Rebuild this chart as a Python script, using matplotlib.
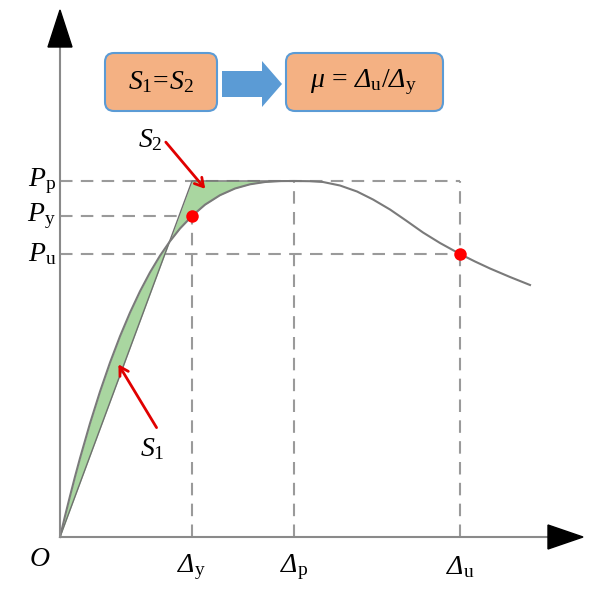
import numpy as np
import matplotlib
matplotlib.use("Agg")
import matplotlib.pyplot as plt
from matplotlib.patches import FancyBboxPatch, Polygon, FancyArrow

plt.rcParams['mathtext.fontset'] = 'custom'
plt.rcParams['mathtext.rm'] = 'Liberation Serif'
plt.rcParams['mathtext.it'] = 'Liberation Serif:italic'
plt.rcParams['mathtext.sf'] = 'Liberation Serif:italic'
plt.rcParams['font.family'] = 'Liberation Serif'

# ---- data (schematic load-displacement curve) ----
curve_x = [0, 5, 10, 15, 20, 30, 40, 50, 60, 70, 80, 90, 100, 110, 120, 132, 145,
           160, 175, 190, 205, 220, 234, 250, 263, 280, 297, 313, 330, 346, 363,
           380, 400, 415, 430, 450, 470]
curve_y = [0, 20.9, 40.9, 60.3, 78.8, 113.6, 145.4, 174.4, 200.7, 224.4, 245.7,
           264.6, 281.3, 295.8, 308.5, 321, 332.3, 341.8, 348.5, 352.7, 355, 355.9,
           356, 355.8, 355.0, 351.5, 345.5, 337.5, 327.5, 316.5, 304.5, 294, 283,
           275.5, 268.5, 260, 252]

delta_y, delta_p, delta_u = 132, 234, 400
P_p, P_y, P_u = 356, 321, 283

bilinear_x = [0, delta_y, delta_p]
bilinear_y = [0, P_p, P_p]

key_x = [delta_y, delta_u]
key_y = [P_y, P_u]

fig = plt.figure(figsize=(5.98, 5.89), dpi=100)
ax = fig.add_axes([0, 0, 1, 1])
ax.set_xlim(-60, 538)
ax.set_ylim(-52, 537)
ax.axis('off')

dash_kw = dict(color='#9a9a9a', lw=1.5, dashes=(6, 4), zorder=1)
ax.plot([0, delta_u], [P_p, P_p], **dash_kw)
ax.plot([0, delta_y], [P_y, P_y], **dash_kw)
ax.plot([0, delta_u], [P_u, P_u], **dash_kw)
for xv in (delta_y, delta_p, delta_u):
    ax.plot([xv, xv], [0, P_p], **dash_kw)

cx = np.array(curve_x, dtype=float)
cy = np.array(curve_y, dtype=float)
mask = cx <= delta_p
lin = np.interp(cx[mask], bilinear_x, bilinear_y)
ax.fill_between(cx[mask], cy[mask], lin, color='#a9d6a0', zorder=2, lw=0)

ax.plot(bilinear_x, bilinear_y, color='#6f6f6f', lw=1.0, zorder=3)
ax.plot(curve_x, curve_y, color='#7a7a7a', lw=1.5, zorder=3, solid_joinstyle='round')

ax.plot(key_x, key_y, 'o', color='#ff0000', ms=9, mec='none', zorder=5)

ax.plot([0, 490], [0, 0], color='#8a8a8a', lw=1.5, zorder=4)
ax.plot([0, 0], [0, 492], color='#8a8a8a', lw=1.5, zorder=4)
ax.add_patch(Polygon([[488, 12], [488, -12], [523, 0]], closed=True, color='black', zorder=6))
ax.add_patch(Polygon([[-12, 490], [12, 490], [0, 527]], closed=True, color='black', zorder=6))

fs = 20
D = r'\mathsf{\Delta}'
ax.text(-4, P_p, r'$P_\mathrm{p}$', ha='right', va='center', fontsize=fs)
ax.text(-4, P_y, r'$P_\mathrm{y}$', ha='right', va='center', fontsize=fs)
ax.text(-4, P_u, r'$P_\mathrm{u}$', ha='right', va='center', fontsize=fs)
ax.text(-20, -23, r'$O$', ha='center', va='center', fontsize=fs)
ax.text(delta_y, -30, '$' + D + r'_\mathrm{y}$', ha='center', va='center', fontsize=fs)
ax.text(delta_p, -30, '$' + D + r'_\mathrm{p}$', ha='center', va='center', fontsize=fs)
ax.text(delta_u, -30, '$' + D + r'_\mathrm{u}$', ha='center', va='center', fontsize=fs)

red = '#e00000'
ax.annotate('', xy=(147, 346), xytext=(104, 397),
            arrowprops=dict(arrowstyle='->,head_length=0.6,head_width=0.35', color=red, lw=2))
ax.text(90, 397, r'$S_2$', ha='center', va='center', fontsize=fs)
ax.annotate('', xy=(57, 175), xytext=(98, 107),
            arrowprops=dict(arrowstyle='->,head_length=0.6,head_width=0.35', color=red, lw=2))
ax.text(92, 88, r'$S_1$', ha='center', va='center', fontsize=fs)

box_fc = '#f4b183'
box_ec = '#5b9bd5'
b1 = FancyBboxPatch((45, 426), 112, 58, boxstyle='round,pad=0,rounding_size=9',
                    fc=box_fc, ec=box_ec, lw=1.5, zorder=6)
b2 = FancyBboxPatch((226, 426), 157, 58, boxstyle='round,pad=0,rounding_size=9',
                    fc=box_fc, ec=box_ec, lw=1.5, zorder=6)
ax.add_patch(b1)
ax.add_patch(b2)
ax.text(101, 455, r'$S_1\!=\!S_2$', ha='center', va='center', fontsize=fs, zorder=7)
ax.text(304, 455, r'$\mu\,=\,' + D + r'_\mathrm{u}/' + D + r'_\mathrm{y}$',
        ha='center', va='center', fontsize=fs, zorder=7)
ax.add_patch(FancyArrow(162, 453, 60, 0, width=26, head_width=46, head_length=20,
                        length_includes_head=True, color='#5b9bd5', lw=0, zorder=6))

fig.savefig('out.png', dpi=100)
